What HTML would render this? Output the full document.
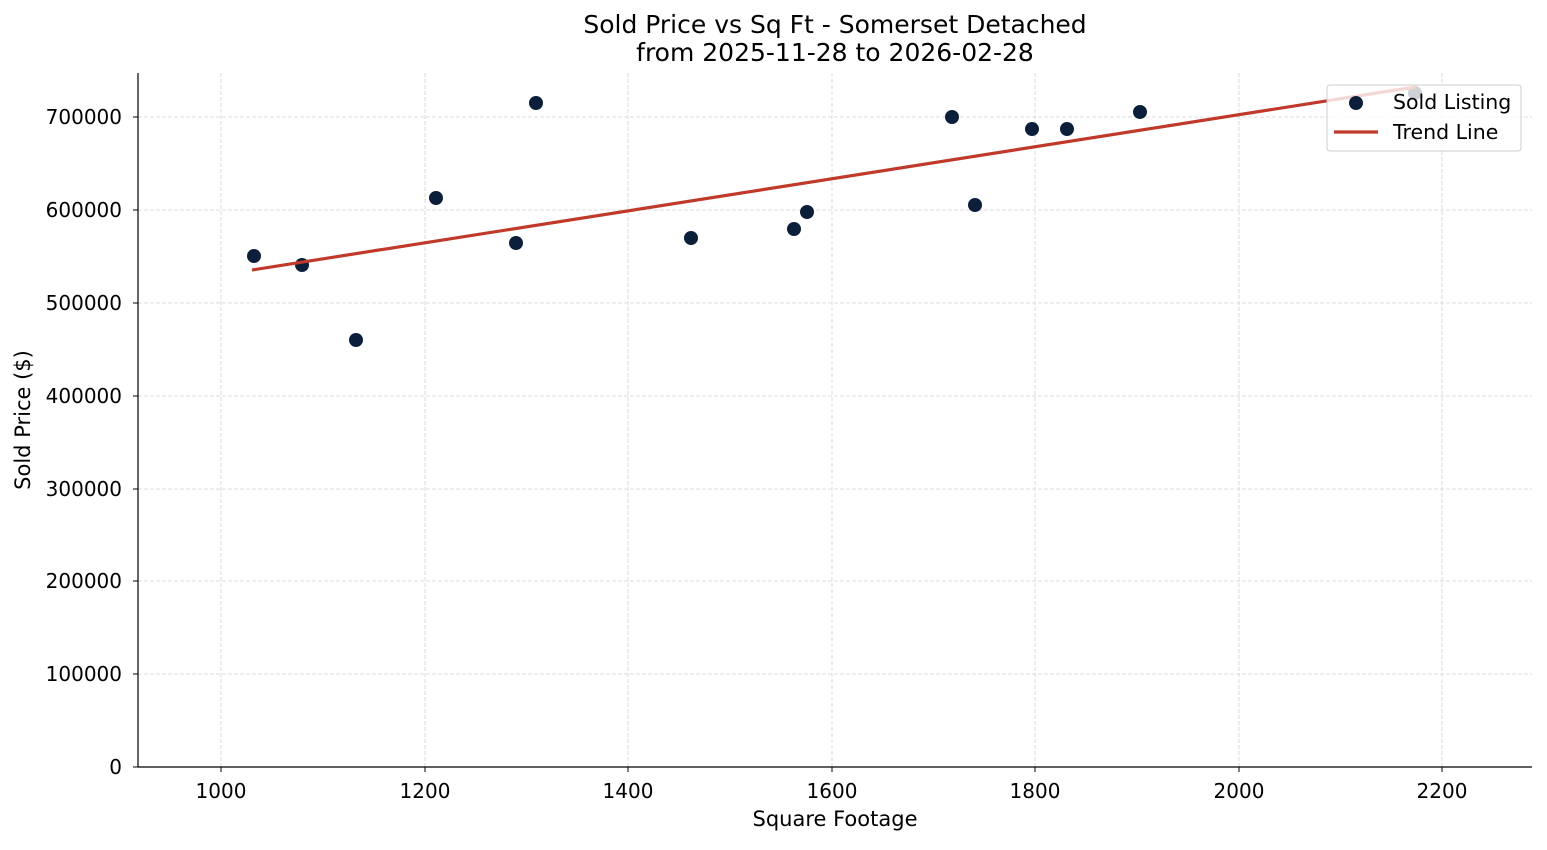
<!DOCTYPE html>
<html><head><style>
body{margin:0;background:#fff;}
svg text{font-family:"DejaVu Sans","Liberation Sans",sans-serif;}
</style></head><body>
<svg width="1547" height="845" xmlns="http://www.w3.org/2000/svg">
<rect width="1547" height="845" fill="#fff"/>
<g stroke="#d3d3d3" stroke-width="0.8" stroke-dasharray="4,2">
<line x1="221" y1="73" x2="221" y2="767"/><line x1="425" y1="73" x2="425" y2="767"/><line x1="628" y1="73" x2="628" y2="767"/><line x1="832" y1="73" x2="832" y2="767"/><line x1="1035" y1="73" x2="1035" y2="767"/><line x1="1239" y1="73" x2="1239" y2="767"/><line x1="1442" y1="73" x2="1442" y2="767"/>
<line x1="138" y1="674" x2="1532" y2="674"/><line x1="138" y1="581" x2="1532" y2="581"/><line x1="138" y1="489" x2="1532" y2="489"/><line x1="138" y1="396" x2="1532" y2="396"/><line x1="138" y1="303" x2="1532" y2="303"/><line x1="138" y1="210" x2="1532" y2="210"/><line x1="138" y1="117" x2="1532" y2="117"/>
</g>
<g fill="#0b1f3a">
<circle cx="254" cy="256" r="7"/><circle cx="302" cy="265" r="7"/><circle cx="356" cy="340" r="7"/><circle cx="436" cy="198" r="7"/><circle cx="516" cy="243" r="7"/><circle cx="536" cy="103" r="7"/><circle cx="691" cy="238" r="7"/><circle cx="794" cy="229" r="7"/><circle cx="807" cy="212" r="7"/><circle cx="952" cy="117" r="7"/><circle cx="975" cy="205" r="7"/><circle cx="1032" cy="129" r="7"/><circle cx="1067" cy="129" r="7"/><circle cx="1140" cy="112" r="7"/><circle cx="1415" cy="93" r="7"/>
</g>
<line x1="252" y1="270" x2="1415" y2="87" stroke="#c0392b" stroke-width="3.2"/>
<rect x="1327" y="85" width="194" height="66" rx="3" fill="#fff" fill-opacity="0.8" stroke="#ccc"/>
<circle cx="1356" cy="103" r="7" fill="#0b1f3a"/>
<line x1="1334" y1="132" x2="1378" y2="132" stroke="#c0392b" stroke-width="3.2"/>
<text x="1393" y="109" font-size="20.5">Sold Listing</text>
<text x="1393" y="139" font-size="20.5">Trend Line</text>
<g stroke="#000" stroke-width="1.2"><line x1="138" y1="73" x2="138" y2="767"/><line x1="138" y1="767" x2="1532" y2="767"/></g>
<g stroke="#000"><line x1="221" y1="767" x2="221" y2="772"/><line x1="425" y1="767" x2="425" y2="772"/><line x1="628" y1="767" x2="628" y2="772"/><line x1="832" y1="767" x2="832" y2="772"/><line x1="1035" y1="767" x2="1035" y2="772"/><line x1="1239" y1="767" x2="1239" y2="772"/><line x1="1442" y1="767" x2="1442" y2="772"/>
<line x1="133" y1="767" x2="138" y2="767"/><line x1="133" y1="674" x2="138" y2="674"/><line x1="133" y1="581" x2="138" y2="581"/><line x1="133" y1="489" x2="138" y2="489"/><line x1="133" y1="396" x2="138" y2="396"/><line x1="133" y1="303" x2="138" y2="303"/><line x1="133" y1="210" x2="138" y2="210"/><line x1="133" y1="117" x2="138" y2="117"/></g>
<g font-size="20" text-anchor="middle">
<text x="221" y="798">1000</text><text x="425" y="798">1200</text><text x="628" y="798">1400</text><text x="832" y="798">1600</text><text x="1035" y="798">1800</text><text x="1239" y="798">2000</text><text x="1442" y="798">2200</text>
</g>
<g font-size="20" text-anchor="end">
<text x="122" y="774">0</text><text x="122" y="681">100000</text><text x="122" y="588">200000</text><text x="122" y="496">300000</text><text x="122" y="403">400000</text><text x="122" y="310">500000</text><text x="122" y="217">600000</text><text x="122" y="124">700000</text>
</g>
<text x="835" y="826" font-size="21" text-anchor="middle">Square Footage</text>
<text transform="translate(30,420) rotate(-90)" font-size="21" text-anchor="middle">Sold Price ($)</text>
<text x="835" y="33" font-size="25" text-anchor="middle">Sold Price vs Sq Ft - Somerset Detached</text>
<text x="835" y="61" font-size="25" text-anchor="middle">from 2025-11-28 to 2026-02-28</text>
</svg>
</body></html>
